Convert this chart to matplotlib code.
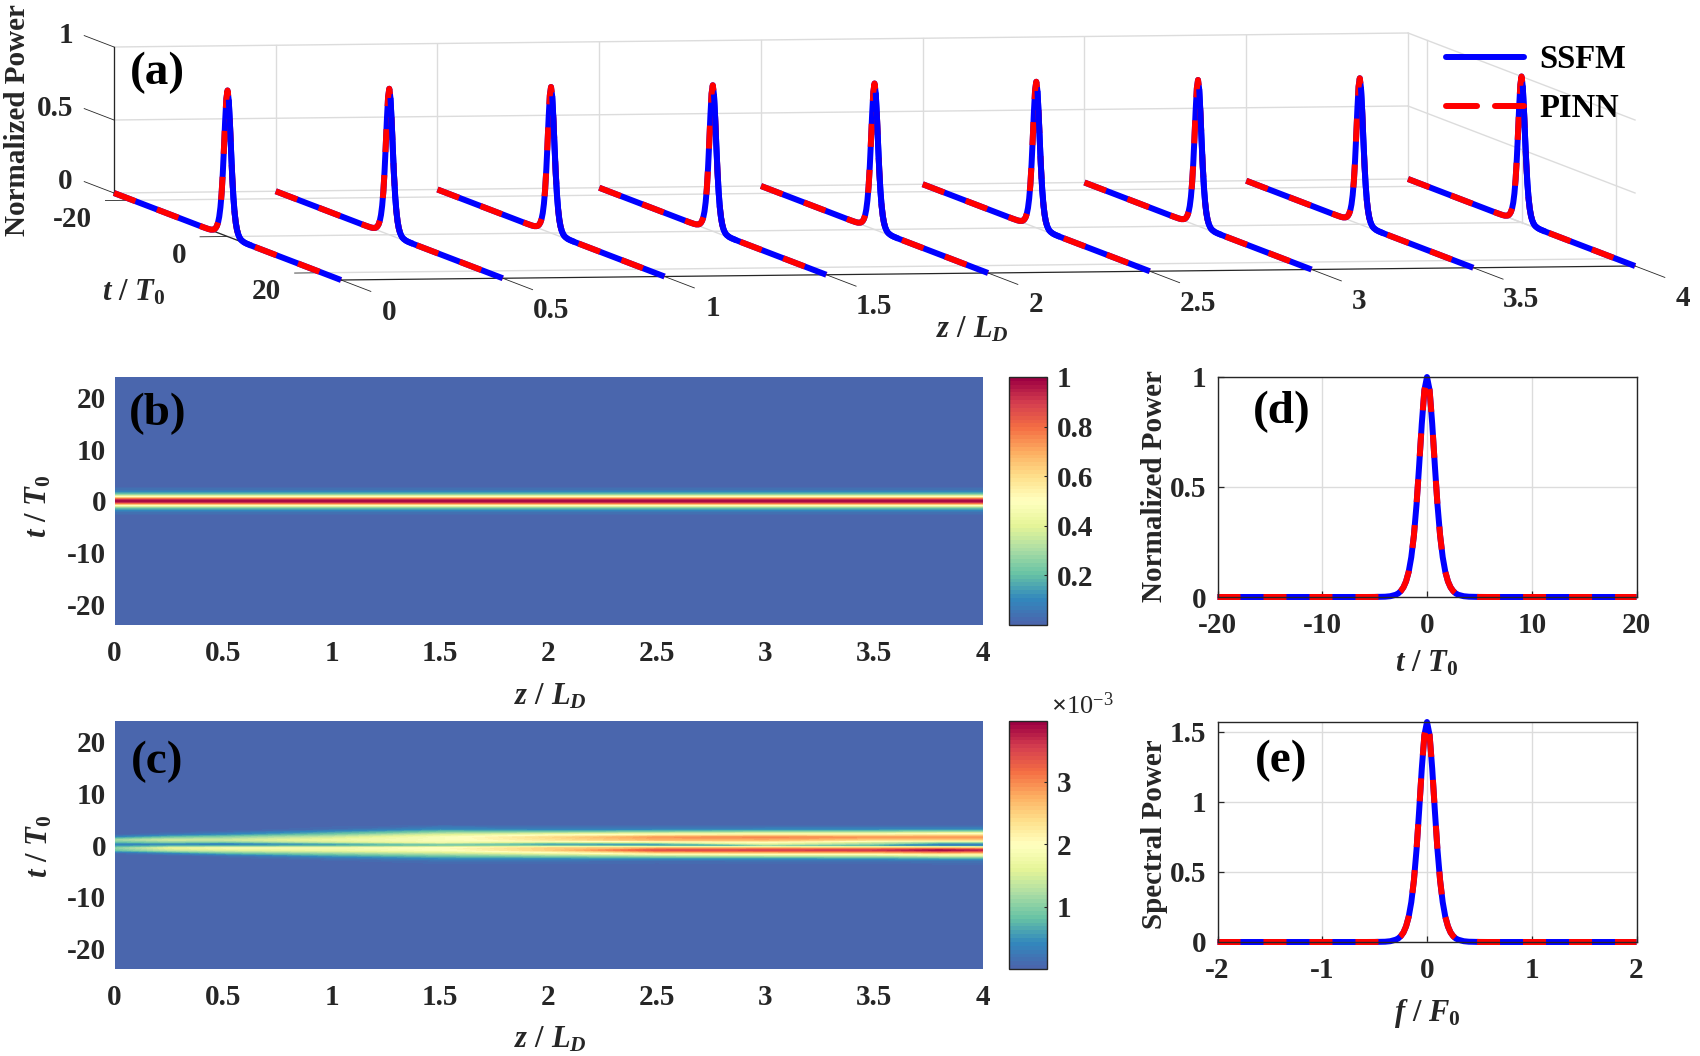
#!/usr/bin/env python
import numpy as np
import matplotlib
matplotlib.use('Agg')
import matplotlib.pyplot as plt
from matplotlib.colors import LinearSegmentedColormap, Normalize
from matplotlib.lines import Line2D

W, H = 1700, 1056

plt.rcParams['font.family'] = ['Liberation Serif', 'DejaVu Serif']
plt.rcParams['font.weight'] = 'bold'
plt.rcParams['axes.unicode_minus'] = False
plt.rcParams['mathtext.fontset'] = 'custom'
plt.rcParams['mathtext.rm'] = 'Liberation Serif'
plt.rcParams['mathtext.bf'] = 'Liberation Serif:bold'
plt.rcParams['mathtext.it'] = 'Liberation Serif:italic:bold'

# pulse (a), (b), (d)
pulse_t = [-24, -20, -10, -6, -5, -4, -3.5, -3, -2.75, -2.5, -2.25, -2, -1.75, -1.5, -1.25, -1, -0.75, -0.5, -0.25,
           0, 0.25, 0.5, 0.75, 1, 1.25, 1.5, 1.75, 2, 2.25, 2.5, 2.75, 3, 3.5, 4, 5, 6, 10, 20, 24]
pulse_p = [0, 0, 0, 0, 0.0002, 0.0013, 0.0036, 0.0099, 0.016, 0.027, 0.044, 0.071, 0.114, 0.181, 0.28, 0.42, 0.597, 0.786, 0.94,
           1, 0.94, 0.786, 0.597, 0.42, 0.28, 0.181, 0.114, 0.071, 0.044, 0.027, 0.016, 0.0099, 0.0036, 0.0013, 0.0002, 0, 0, 0, 0]

# spectrum
spec_f = [-2, -1, -0.6, -0.5, -0.4, -0.35, -0.3, -0.275, -0.25, -0.225, -0.2, -0.175, -0.15, -0.125, -0.1, -0.075, -0.05, -0.025,
          0, 0.025, 0.05, 0.075, 0.1, 0.125, 0.15, 0.175, 0.2, 0.225, 0.25, 0.275, 0.3, 0.35, 0.4, 0.5, 0.6, 1, 2]
spec_p = [0, 0, 0, 0.0003, 0.002, 0.0057, 0.016, 0.025, 0.042, 0.068, 0.111, 0.179, 0.284, 0.44, 0.659, 0.937, 1.235, 1.476,
          1.57, 1.476, 1.235, 0.937, 0.659, 0.44, 0.284, 0.179, 0.111, 0.068, 0.042, 0.025, 0.016, 0.0057, 0.002, 0.0003, 0, 0, 0]

# error map of panel (c), x 1e-3, one row per t, one column per z
err_z = [0, 0.25, 0.5, 1, 1.5, 2, 2.5, 3, 3.5, 3.8, 4]
err_t = [-24, -4, -3, -2.5, -2, -1.5, -1, -0.6, -0.2, 0.2, 0.6, 1, 1.5, 2, 2.5, 3, 4, 24]
err_map = [
    [0, 0, 0, 0, 0, 0, 0, 0, 0, 0, 0],
    [0, 0, 0, 0, 0, 0, 0, 0, 0, 0, 0],
    [0, 0, 0, 0.05, 0.15, 0.15, 0.12, 0.15, 0.15, 0.2, 0.2],
    [0, 0, 0.02, 0.2, 0.45, 0.5, 0.55, 0.55, 0.6, 0.7, 0.7],
    [0, 0.02, 0.15, 0.6, 0.9, 1.1, 1.3, 1.4, 1.4, 1.6, 1.6],
    [0.1, 0.4, 0.8, 1.1, 1.4, 1.8, 2.4, 2.5, 2.5, 2.7, 2.6],
    [0.8, 1.3, 1.5, 1.7, 1.9, 2.5, 3.4, 3.5, 3.6, 3.9, 3.7],
    [1.0, 1.6, 1.8, 1.8, 2.0, 2.5, 2.7, 2.7, 2.7, 2.7, 2.6],
    [0.5, 0.7, 0.7, 0.8, 1.0, 1.0, 0.8, 0.8, 0.6, 0.5, 0.5],
    [0.3, 0.25, 0.08, 0.4, 0.9, 0.3, 0.4, 1.5, 1.0, 0.2, 0.2],
    [0.8, 1.0, 0.9, 1.4, 1.8, 1.5, 1.7, 2.0, 1.5, 1.2, 1.2],
    [1.1, 1.4, 1.4, 1.7, 1.9, 2.3, 2.7, 2.7, 2.4, 2.4, 2.4],
    [0.4, 0.8, 1.0, 1.4, 1.9, 2.4, 2.9, 3.0, 2.9, 2.9, 2.9],
    [0.02, 0.2, 0.4, 0.9, 1.5, 1.8, 2.0, 2.1, 2.1, 2.2, 2.2],
    [0, 0.03, 0.1, 0.5, 0.9, 0.9, 1.0, 1.1, 1.1, 1.2, 1.2],
    [0, 0, 0, 0.12, 0.4, 0.3, 0.3, 0.35, 0.35, 0.35, 0.35],
    [0, 0, 0, 0, 0, 0, 0, 0, 0, 0, 0],
    [0, 0, 0, 0, 0, 0, 0, 0, 0, 0, 0],
]

z_ticks = [0, 0.5, 1, 1.5, 2, 2.5, 3, 3.5, 4]
z_labels = ['0', '0.5', '1', '1.5', '2', '2.5', '3', '3.5', '4']
t_ticks = [-20, 0, 20]
p_ticks = [0, 0.5, 1]
p_labels = ['0', '0.5', '1']

spectral = ['#4a66ad', '#3288bd', '#66c2a5', '#abdda4', '#e6f598', '#ffffbf',
            '#fee08b', '#fdae61', '#f46d43', '#d53e4f', '#9e0142']
cmap = LinearSegmentedColormap.from_list('spec', spectral, N=64)

BLUE, RED = '#0000ff', '#ff0000'
LW = 4.3
DASH = (0, (3.85, 3.85))
GRID = '#dcdcdc'
DARK = '#262626'
TS = 21


def px_axes(left, top, right, bottom):
    return fig.add_axes([left / W, 1 - bottom / H, (right - left) / W, (bottom - top) / H])


def project(z, t, p):
    # orthographic view of panel (a), in image pixels
    z, t, p = np.asarray(z, float), np.asarray(t, float), np.asarray(p, float)
    x = 114 + 323.5 * z + 4.73 * (t + 24)
    y = 193 - 3.5 * z + 1.8125 * (t + 24) - 146 * p
    return x, y


def figtext(x, y, s, **kw):
    kw.setdefault('ha', 'center')
    kw.setdefault('va', 'center')
    fig.text(x / W, 1 - y / H, s, **kw)


def pulse_lines(ax, x, y, **kw):
    ax.plot(x, y, color=BLUE, lw=LW, solid_capstyle='butt', **kw)
    ax.plot(x, y, color=RED, lw=LW, ls=DASH, dash_capstyle='butt', **kw)


def style_2d(ax):
    ax.tick_params(direction='in', length=4, width=0.9, color=DARK, labelcolor=DARK, labelsize=TS)
    for s in ax.spines.values():
        s.set_color(DARK)
        s.set_linewidth(1.0)


fig = plt.figure(figsize=(W / 100, H / 100), dpi=100)

# (a) waterfall
ax = fig.add_axes([0, 0, 1, 1])
ax.set_xlim(0, W)
ax.set_ylim(H, 0)
ax.axis('off')


def seg(z, t, p, color=GRID, lw=1.0):
    x, y = project(z, t, p)
    ax.plot(x, y, color=color, lw=lw, zorder=1)


for z in z_ticks:
    seg([z, z], [-24, -24], [0, 1])
    seg([z, z], [-24, 24], [0, 0])
for p in p_ticks:
    seg([0, 4], [-24, -24], [p, p])
    seg([4, 4], [-24, 24], [p, p])
for t in t_ticks:
    seg([0, 4], [t, t], [0, 0])
    seg([4, 4], [t, t], [0, 1])

seg([0, 0], [-24, -24], [0, 1], DARK, 0.9)
seg([0, 0], [-24, 24], [0, 0], DARK, 0.9)
seg([0, 4], [24, 24], [0, 0], DARK, 0.9)
for z, lab in zip(z_ticks, z_labels):
    seg([z, z], [24, 30.3], [0, 0], DARK, 0.6)
    x, y = project(z, 24, 0)
    ax.text(x + 48, y + 32, lab, fontsize=TS, color=DARK, ha='center', va='center')
for t in t_ticks:
    seg([-0.085, 0], [t, t], [0, 0], DARK, 0.6)
    x, y = project(0, t, 0)
    ax.text(x - 41, y + 19, str(t), fontsize=TS, color=DARK, ha='right', va='center')
for p, lab in zip(p_ticks, p_labels):
    seg([0, 0], [-30.3, -24], [p, p], DARK, 0.6)
    x, y = project(0, -24, p)
    ax.text(x - 41, y - 11.5, lab, fontsize=TS, color=DARK, ha='right', va='center')

# falling side of each pulse shows the solid curve only
fall = [i for i, t in enumerate(pulse_t) if 0.25 <= t <= 5]
for z in z_ticks:
    x, y = project(z, pulse_t, pulse_p)
    pulse_lines(ax, x, y, zorder=3)
    ax.plot(x[fall], y[fall], color=BLUE, lw=LW, solid_capstyle='butt', zorder=3)

handles = [
    Line2D([], [], color=BLUE, lw=LW, solid_capstyle='round'),
    Line2D([], [], color=RED, lw=LW, ls=(0, (5.2, 3.0)), dash_capstyle='round'),
]
leg = ax.legend(handles, ['SSFM', 'PINN'], loc='upper left', bbox_to_anchor=(1446 / W, 1 - 44.5 / H),
                frameon=False, fontsize=23.5, handlelength=2.4, handletextpad=0.45, labelspacing=0.55,
                borderpad=0, borderaxespad=0)
leg.set_zorder(5)

figtext(157, 73, '(a)', fontsize=34)
figtext(18, 120, 'Normalized Power', fontsize=21, rotation=90, color=DARK)
figtext(134, 293, r'$\mathit{t}\ \mathbf{/}\ \mathit{T}_{\mathit{0}}$', fontsize=22, color=DARK)
figtext(972, 330, r'$\mathit{z}\ \mathbf{/}\ \mathit{L}_{\mathit{D}}$', fontsize=22, color=DARK)

# (b) and (c) maps
maps = [
    (377, 625, [0, 4], pulse_t, np.column_stack([pulse_p, pulse_p]), 1.0, [0.2, 0.4, 0.6, 0.8, 1], ['0.2', '0.4', '0.6', '0.8', '1']),
    (721, 969, err_z, err_t, np.array(err_map), 3.97, [1, 2, 3], ['1', '2', '3']),
]
for top, bottom, zs, ts, vals, vmax, cticks, clabels in maps:
    a = px_axes(114.5, top, 982.5, bottom)
    norm = Normalize(0, vmax)
    cs = a.contourf(zs, ts, vals, levels=np.linspace(0, vmax, 129), cmap=cmap, norm=norm)
    a.set_xlim(0, 4)
    a.set_ylim(-24, 24)
    a.set_xticks(z_ticks, z_labels)
    a.set_yticks([-20, -10, 0, 10, 20])
    style_2d(a)
    a.tick_params(length=0)
    a.tick_params(axis='x', pad=11)
    a.tick_params(axis='y', pad=6)
    for s in a.spines.values():
        s.set_visible(False)
    cax = px_axes(1008.5, top, 1047, bottom)
    sm = plt.cm.ScalarMappable(norm=norm, cmap=cmap)
    cb = fig.colorbar(sm, cax=cax, ticks=cticks)
    cb.ax.set_yticklabels(clabels)
    cb.ax.tick_params(direction='in', length=2.5, width=0.8, color=DARK, labelcolor=DARK, labelsize=TS, pad=7)
    cb.outline.set_edgecolor(DARK)
    cb.outline.set_linewidth(1.0)

figtext(158, 414, '(b)', fontsize=34)
figtext(157, 762, '(c)', fontsize=34)
figtext(39, 506, r'$\mathit{t}\ \mathbf{/}\ \mathit{T}_{\mathit{0}}$', fontsize=22, rotation=90, color=DARK)
figtext(40, 846, r'$\mathit{t}\ \mathbf{/}\ \mathit{T}_{\mathit{0}}$', fontsize=22, rotation=90, color=DARK)
figtext(550, 697, r'$\mathit{z}\ \mathbf{/}\ \mathit{L}_{\mathit{D}}$', fontsize=22, color=DARK)
figtext(550, 1040, r'$\mathit{z}\ \mathbf{/}\ \mathit{L}_{\mathit{D}}$', fontsize=22, color=DARK)
figtext(1082, 706, r'$\times\mathregular{10^{-3}}$', fontsize=19, fontweight='normal', color=DARK)

# (d) time profile
ad = px_axes(1217.5, 377, 1636.5, 597)
keep = [i for i, t in enumerate(pulse_t) if -20 <= t <= 20]
pulse_lines(ad, [pulse_t[i] for i in keep], [pulse_p[i] for i in keep], clip_on=False)
ad.set_xlim(-20, 20)
ad.set_ylim(0, 1)
ad.set_xticks([-20, -10, 0, 10, 20])
ad.set_yticks([0, 0.5, 1], ['0', '0.5', '1'])
ad.grid(True, color=GRID, lw=1.0)
style_2d(ad)
ad.tick_params(axis='x', pad=11)
ad.tick_params(axis='y', pad=8)
figtext(1282, 412, '(d)', fontsize=34)
figtext(1154, 486, 'Normalized Power', fontsize=21, rotation=90, color=DARK)
figtext(1427, 664, r'$\mathit{t}\ \mathbf{/}\ \mathit{T}_{\mathit{0}}$', fontsize=22, color=DARK)

# (e) spectrum
ae = px_axes(1217.5, 722, 1636.5, 942)
pulse_lines(ae, spec_f, spec_p, clip_on=False)
ae.set_xlim(-2, 2)
ae.set_ylim(0, 1.57)
ae.set_xticks([-2, -1, 0, 1, 2])
ae.set_yticks([0, 0.5, 1, 1.5], ['0', '0.5', '1', '1.5'])
ae.grid(True, color=GRID, lw=1.0)
style_2d(ae)
ae.tick_params(axis='x', pad=11)
ae.tick_params(axis='y', pad=8)
figtext(1281, 761, '(e)', fontsize=34)
figtext(1154, 834, 'Spectral Power', fontsize=21, rotation=90, color=DARK)
figtext(1427, 1014, r'$\mathit{f}\ \mathbf{/}\ \mathit{F}_{\mathit{0}}$', fontsize=22, color=DARK)

fig.savefig('out.png', dpi=100)
